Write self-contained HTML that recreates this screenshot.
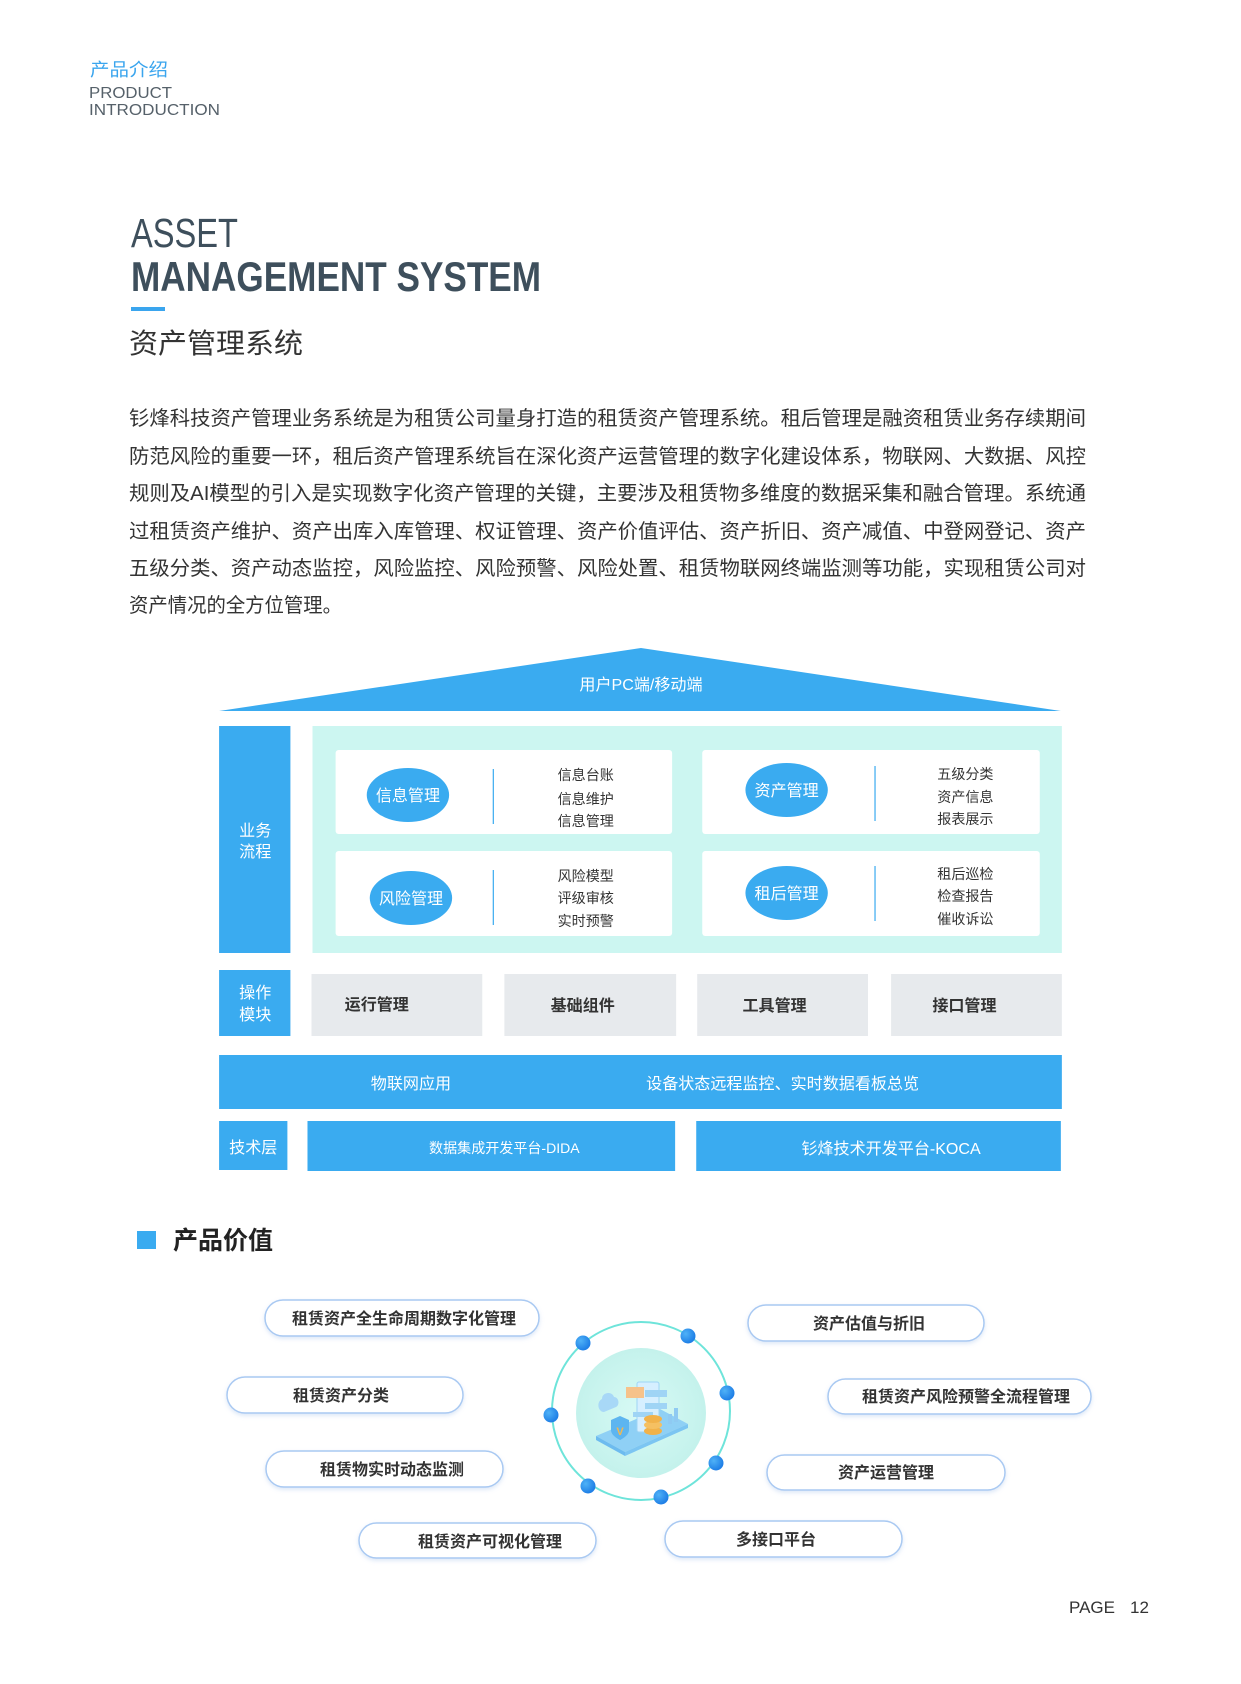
<!DOCTYPE html>
<html><head><meta charset="utf-8">
<style>
html,body{margin:0;padding:0;background:#fff;}
svg{display:block;}
text{font-family:"Liberation Sans","Noto Sans CJK SC",sans-serif;}
</style></head>
<body>
<svg width="1241" height="1684" viewBox="0 0 1241 1684" xmlns="http://www.w3.org/2000/svg">
<defs>
<radialGradient id="ig" cx="50%" cy="50%" r="50%">
<stop offset="0%" stop-color="#d8faf5"/><stop offset="100%" stop-color="#c4f2ec"/>
</radialGradient>
<radialGradient id="dg" cx="35%" cy="35%" r="65%">
<stop offset="0%" stop-color="#4fb2f7"/><stop offset="100%" stop-color="#1f7fe6"/>
</radialGradient>
<filter id="sh" x="-10%" y="-30%" width="120%" height="170%">
<feDropShadow dx="0" dy="2" stdDeviation="2" flood-color="#9bbbe8" flood-opacity="0.35"/>
</filter>
</defs>

<!-- header -->
<text x="90" y="76" font-size="18" fill="#3aa5ee" textLength="78" lengthAdjust="spacingAndGlyphs">产品介绍</text>
<text x="89" y="98" font-size="16" fill="#56616a" textLength="83" lengthAdjust="spacingAndGlyphs">PRODUCT</text>
<text x="89" y="115" font-size="16" fill="#56616a" textLength="131" lengthAdjust="spacingAndGlyphs">INTRODUCTION</text>

<text x="131" y="247" font-size="41" fill="#3e4f5c" textLength="107" lengthAdjust="spacingAndGlyphs">ASSET</text>
<text x="131" y="291" font-size="42" font-weight="bold" fill="#3e4f5c" textLength="410" lengthAdjust="spacingAndGlyphs">MANAGEMENT SYSTEM</text>
<rect x="131" y="307" width="34" height="4" fill="#3aa5ee"/>
<text x="129" y="353" font-size="28" fill="#333" textLength="174" lengthAdjust="spacingAndGlyphs">资产管理系统</text>

<!-- paragraph -->
<g font-size="20" fill="#333">
<text x="129" y="425" textLength="957" lengthAdjust="spacingAndGlyphs">钐烽科技资产管理业务系统是为租赁公司量身打造的租赁资产管理系统。租后管理是融资租赁业务存续期间</text>
<text x="129" y="463" textLength="957" lengthAdjust="spacingAndGlyphs">防范风险的重要一环，租后资产管理系统旨在深化资产运营管理的数字化建设体系，物联网、大数据、风控</text>
<text x="129" y="500" textLength="957" lengthAdjust="spacingAndGlyphs">规则及AI模型的引入是实现数字化资产管理的关键，主要涉及租赁物多维度的数据采集和融合管理。系统通</text>
<text x="129" y="538" textLength="957" lengthAdjust="spacingAndGlyphs">过租赁资产维护、资产出库入库管理、权证管理、资产价值评估、资产折旧、资产减值、中登网登记、资产</text>
<text x="129" y="575" textLength="957" lengthAdjust="spacingAndGlyphs">五级分类、资产动态监控，风险监控、风险预警、风险处置、租赁物联网终端监测等功能，实现租赁公司对</text>
<text x="129" y="612" textLength="213" lengthAdjust="spacingAndGlyphs">资产情况的全方位管理。</text>
</g>

<g transform="translate(-0.9,4) scale(1.0045,1)">
<polygon points="219,707 639,644 1057,707" fill="#3aabf0"/>
<text x="639" y="686" font-size="16" fill="#fff" text-anchor="middle">用户PC端/移动端</text>

<rect x="219" y="722" width="71" height="227" fill="#3aabf0"/>
<text x="255" y="832" font-size="16" fill="#fff" text-anchor="middle">业务</text>
<text x="255" y="853" font-size="16" fill="#fff" text-anchor="middle">流程</text>
<rect x="312" y="722" width="746" height="227" fill="#ccf6f1"/>

<rect x="335" y="746" width="335" height="84" rx="3" fill="#fff"/>
<rect x="700" y="746" width="336" height="84" rx="3" fill="#fff"/>
<rect x="335" y="847" width="335" height="85" rx="3" fill="#fff"/>
<rect x="700" y="847" width="336" height="85" rx="3" fill="#fff"/>

<g fill="#3aabf0">
<ellipse cx="407" cy="791" rx="41" ry="27"/>
<ellipse cx="784" cy="786" rx="41" ry="27"/>
<ellipse cx="410" cy="894" rx="41" ry="27"/>
<ellipse cx="784" cy="889" rx="41" ry="27"/>
</g>
<g font-size="16" fill="#fff" text-anchor="middle">
<text x="407" y="797">信息管理</text>
<text x="784" y="792">资产管理</text>
<text x="410" y="900">风险管理</text>
<text x="784" y="895">租后管理</text>
</g>
<g stroke="#3aabf0" stroke-width="1.2">
<line x1="492" y1="765" x2="492" y2="820"/>
<line x1="872" y1="762" x2="872" y2="817"/>
<line x1="492" y1="866" x2="492" y2="921"/>
<line x1="872" y1="862" x2="872" y2="917"/>
</g>
<g font-size="14" fill="#333">
<text x="556" y="776">信息台账</text>
<text x="556" y="800">信息维护</text>
<text x="556" y="822">信息管理</text>
<text x="934" y="775">五级分类</text>
<text x="934" y="798">资产信息</text>
<text x="934" y="820">报表展示</text>
<text x="556" y="877">风险模型</text>
<text x="556" y="899">评级审核</text>
<text x="556" y="922">实时预警</text>
<text x="934" y="875">租后巡检</text>
<text x="934" y="897">检查报告</text>
<text x="934" y="920">催收诉讼</text>
</g>

<rect x="219" y="966" width="71" height="66" fill="#3aabf0"/>
<text x="255" y="994" font-size="16" fill="#fff" text-anchor="middle">操作</text>
<text x="255" y="1016" font-size="16" fill="#fff" text-anchor="middle">模块</text>
<g fill="#e7eaed">
<rect x="311" y="970" width="170" height="62"/>
<rect x="503" y="970" width="171" height="62"/>
<rect x="695" y="970" width="170" height="62"/>
<rect x="888" y="970" width="170" height="62"/>
</g>
<g font-size="16" fill="#333" font-weight="bold">
<text x="344" y="1006">运行管理</text>
<text x="581" y="1007" text-anchor="middle">基础组件</text>
<text x="772" y="1007" text-anchor="middle">工具管理</text>
<text x="961" y="1007" text-anchor="middle">接口管理</text>
</g>

<rect x="219" y="1051" width="839" height="54" fill="#3aabf0"/>
<text x="410" y="1085" font-size="16" fill="#fff" text-anchor="middle">物联网应用</text>
<text x="780" y="1085" font-size="16" fill="#fff" text-anchor="middle">设备状态远程监控、实时数据看板总览</text>

<rect x="219" y="1117" width="68" height="49" fill="#3aabf0"/>
<text x="253" y="1149" font-size="16" fill="#fff" text-anchor="middle">技术层</text>
<rect x="307" y="1117" width="366" height="50" fill="#3aabf0"/>
<rect x="694" y="1117" width="363" height="50" fill="#3aabf0"/>
<text x="503" y="1149" font-size="14" fill="#fff" text-anchor="middle">数据集成开发平台-DIDA</text>
<text x="888" y="1150" font-size="16" fill="#fff" text-anchor="middle">钐烽技术开发平台-KOCA</text>
</g>

<g transform="translate(0,4)">
<rect x="137" y="1227" width="19" height="18" fill="#3aabf0"/>
<text x="173" y="1245" font-size="25" font-weight="bold" fill="#222">产品价值</text>

<circle cx="641" cy="1407" r="89" fill="none" stroke="#6ee4da" stroke-width="2"/>
<circle cx="641" cy="1409" r="65" fill="url(#ig)"/>
<g>
<polygon points="596,1432 660,1405 688,1420 625,1448" fill="#8fd0f5"/>
<polygon points="596,1432 625,1448 625,1452 596,1436" fill="#6dbbef"/>
<polygon points="625,1448 688,1420 688,1424 625,1452" fill="#7cc5f2"/>
<rect x="637" y="1378" width="22" height="50" rx="2" fill="#d6efff" stroke="#9fd4f5"/>
<rect x="626" y="1383" width="18" height="11" fill="#f6c28a"/>
<rect x="645" y="1386" width="22" height="7" fill="#9fd4f5"/>
<rect x="645" y="1399" width="22" height="6" fill="#9fd4f5"/>
<rect x="633" y="1408" width="20" height="5" fill="#9fd4f5"/>
<path d="M620,1412 l9,4 v10 c0,6 -9,10 -9,10 c0,0 -9,-4 -9,-10 v-10z" fill="#5db5f0"/>
<text x="620" y="1431" font-size="11" fill="#f2b84f" text-anchor="middle" font-weight="bold">V</text>
<ellipse cx="653" cy="1427" rx="9" ry="4" fill="#f1b24a"/>
<ellipse cx="653" cy="1421" rx="9" ry="4" fill="#f5c062"/>
<ellipse cx="653" cy="1415" rx="9" ry="4" fill="#f1b24a"/>
<path d="M604,1408 c-6,0 -8,-10 -2,-13 c0,-7 10,-8 12,-2 c5,0 6,8 2,10z" fill="#a8d8f7"/>
<rect x="668" y="1410" width="4" height="10" fill="#8fcaf2"/>
<rect x="674" y="1404" width="4" height="14" fill="#8fcaf2"/>
</g>
<g fill="url(#dg)">
<circle cx="583" cy="1339" r="7.5"/>
<circle cx="688" cy="1332" r="7.5"/>
<circle cx="727" cy="1389" r="7.5"/>
<circle cx="716" cy="1459" r="7.5"/>
<circle cx="661" cy="1493" r="7.5"/>
<circle cx="588" cy="1482" r="7.5"/>
<circle cx="551" cy="1411" r="7.5"/>
</g>

<g fill="#fff" stroke="#a9c9f2" stroke-width="1.5" filter="url(#sh)">
<rect x="265" y="1296" width="274" height="36" rx="18"/>
<rect x="748" y="1301" width="236" height="36" rx="18"/>
<rect x="227" y="1373" width="236" height="36" rx="18"/>
<rect x="828" y="1375" width="263" height="35" rx="17.5"/>
<rect x="266" y="1447" width="237" height="36" rx="18"/>
<rect x="767" y="1451" width="238" height="35" rx="17.5"/>
<rect x="359" y="1519" width="237" height="35" rx="17.5"/>
<rect x="665" y="1517" width="237" height="36" rx="18"/>
</g>
<g font-size="16" font-weight="bold" fill="#333" text-anchor="middle">
<text x="404" y="1320">租赁资产全生命周期数字化管理</text>
<text x="869" y="1325">资产估值与折旧</text>
<text x="341" y="1397">租赁资产分类</text>
<text x="966" y="1398">租赁资产风险预警全流程管理</text>
<text x="392" y="1471">租赁物实时动态监测</text>
<text x="886" y="1474">资产运营管理</text>
<text x="490" y="1543">租赁资产可视化管理</text>
<text x="776" y="1541">多接口平台</text>
</g>
</g>

<text x="1069" y="1613" font-size="17" fill="#333">PAGE</text>
<text x="1130" y="1613" font-size="17" fill="#333">12</text>
</svg>
</body></html>
